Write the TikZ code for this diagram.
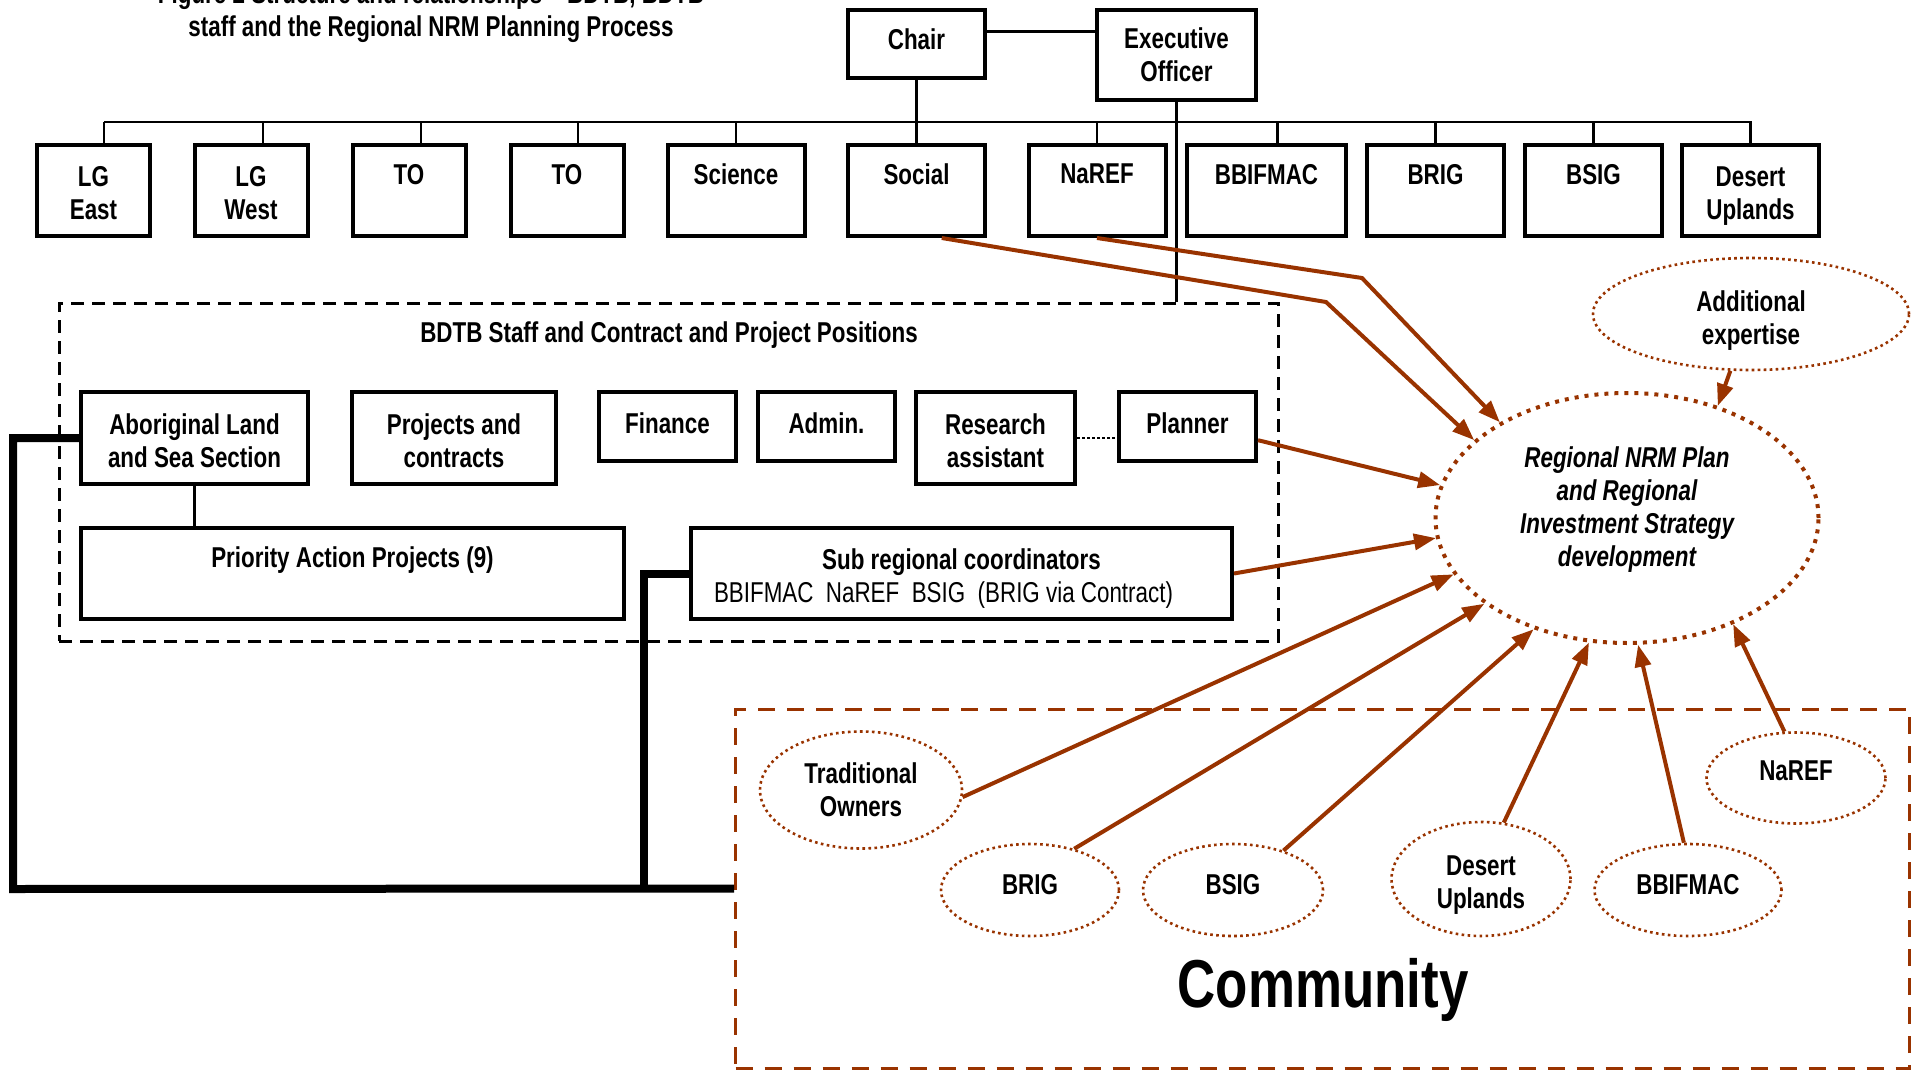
\documentclass[tikz,border=0pt]{standalone}
\usepackage{fontspec}
\setmainfont{Liberation Sans}[FakeStretch=0.78]
\usetikzlibrary{arrows.meta}
\usetikzlibrary{shapes.geometric}
\definecolor{rust}{RGB}{153,51,0}
\newcommand{\boxfont}{\fontsize{28.7}{33}\selectfont\bfseries}
\newcommand{\lift}[1]{\rule{0pt}{#1pt}}

\begin{document}
\begin{tikzpicture}[x=1pt,y=-1pt,
    orgbox/.style={draw,line width=4pt,align=center,inner sep=0pt,font=\boxfont},
    link/.style={line width=2.5pt},
    heavy/.style={line width=8pt},
    feed/.style={draw=rust,line width=4pt,-{Triangle[length=22pt,width=16pt]}},
    group/.style={ellipse,draw=rust,line width=2.6pt,dash pattern=on 2.6pt off 3.4pt,align=center,inner sep=0pt,font=\boxfont}]
    \useasboundingbox (0,0) rectangle (1917,1070);

    \node[align=center,font=\boxfont] (title) at (431,13) {Figure 2 Structure and relationships -- BDTB, BDTB\\staff and the Regional NRM Planning Process};

    % board
    \node[orgbox,minimum width=137pt,minimum height=68pt,text depth=10pt] (chair) at (916.5,44) {Chair};
    \node[orgbox,minimum width=159pt,minimum height=90pt] (eo) at (1176.5,55) {Executive\\Officer};
    \begin{scope}[every node/.append style={minimum height=91pt}]
	\node[orgbox,minimum width=113pt] (lgeast) at (93.5,190.5) {\lift{26}LG\\East};
	\node[orgbox,minimum width=113pt] (lgwest) at (251,190.5) {\lift{26}LG\\West};
	\node[orgbox,minimum width=113pt] (toa) at (409,190.5) {TO\\\mbox{}};
	\node[orgbox,minimum width=113pt] (tob) at (567,190.5) {TO\\\mbox{}};
	\node[orgbox,minimum width=137pt] (science) at (736,190.5) {Science\\\mbox{}};
	\node[orgbox,minimum width=137pt] (social) at (916.5,190.5) {Social\\\mbox{}};
	\node[orgbox,minimum width=137pt] (naref) at (1097,190.5) {NaREF\\\mbox{}};
	\node[orgbox,minimum width=159pt] (bbifmac) at (1266.5,190.5) {BBIFMAC\\\mbox{}};
	\node[orgbox,minimum width=137pt] (brig) at (1435.5,190.5) {BRIG\\\mbox{}};
	\node[orgbox,minimum width=137pt] (bsig) at (1593.5,190.5) {BSIG\\\mbox{}};
	\node[orgbox,minimum width=137pt] (desert) at (1750.5,190.5) {\lift{31}Desert\\Uplands};
    \end{scope}
    \coordinate (busl) at (104,122);
    \coordinate (busr) at (1752,122);
    \draw[link] (busl) -- (busr);
    \foreach \n/\dx in {lgeast/10.5,lgwest/12,toa/12,tob/11,science/0,naref/0,bbifmac/11,brig/0,bsig/0,desert/0}
	\draw[link] ([xshift=\dx pt]\n.north) -- ([xshift=\dx pt]\n.north |- busl);
    \draw[link] (chair.10) -- (eo.west |- chair.10);
    \draw[link] (chair.south) -- (social.north);

    % staff
    \node[draw,line width=3pt,dash pattern=on 13pt off 8pt,minimum width=1219pt,minimum height=338pt] (staffbox) at (668.5,472) {};
    \node[font=\boxfont] (stafftitle) at (669,335.5) {BDTB Staff and Contract and Project Positions};
    \draw[link] (eo.south) -- (eo.south |- staffbox.north);
    \node[orgbox,minimum width=227pt,minimum height=92pt] (aboriginal) at (194.5,438) {\lift{26}Aboriginal Land\\and Sea Section};
    \node[orgbox,minimum width=204pt,minimum height=92pt] (projects) at (454,438) {\lift{26}Projects and\\contracts};
    \node[orgbox,minimum width=137pt,minimum height=69pt,text depth=7.5pt] (finance) at (667.5,426.5) {Finance};
    \node[orgbox,minimum width=137pt,minimum height=69pt,text depth=7.5pt] (admin) at (826.5,426.5) {Admin.};
    \node[orgbox,minimum width=159pt,minimum height=92pt] (research) at (995.5,438) {\lift{26}Research\\assistant};
    \node[orgbox,minimum width=137pt,minimum height=69pt,text depth=7.5pt] (planner) at (1187.5,426.5) {Planner};
    \node[orgbox,minimum width=543pt,minimum height=91pt] (pap) at (352.5,573.5) {Priority Action Projects (9)\\\mbox{}};
    \node[orgbox,minimum width=541pt,minimum height=91pt] (subreg) at (961.5,573.5) {\lift{31}Sub regional coordinators\\\mbox{{\mdseries BBIFMAC\ \ NaREF\ \ BSIG\ \ (BRIG via Contract)}\hspace{36pt}}};
    \draw[link] (aboriginal.south) -- (pap.north -| aboriginal.south);
    \draw[line width=2.5pt,dash pattern=on 2.5pt off 2.5pt] (research.east) -- (planner.west |- research.east);

    % community
    \node[draw=rust,line width=3pt,dash pattern=on 17pt off 12pt,minimum width=1174pt,minimum height=359pt] (commbox) at (1322.5,888.5) {};
    \node[font=\fontsize{67.8}{78}\selectfont\bfseries] (commtitle) at (1323,990) {Community};
    \coordinate (lefttrunk) at (13,889);
    \coordinate (midtrunk) at (644,889);
    \draw[heavy] (aboriginal.west) -| (lefttrunk) -- (commbox.west);
    \draw[heavy] (subreg.west) -| (midtrunk);

    % plan
    \node[ellipse,draw=rust,line width=4pt,dash pattern=on 4pt off 6pt,align=center,inner sep=0pt,font=\boxfont\itshape,minimum width=383pt,minimum height=250pt] (plan) at (1627,518) {Regional NRM Plan\\and Regional\\Investment Strategy\\development\\[-10pt]\mbox{}};
    \node[group,minimum width=316pt,minimum height=112pt] (expertise) at (1751,314) {\lift{33}Additional\\expertise};
    \node[group,minimum width=202pt,minimum height=117pt] (owners) at (861,790) {Traditional\\Owners};
    \node[group,minimum width=178pt,minimum height=92pt,text depth=12pt] (cbrig) at (1030,890) {BRIG};
    \node[group,minimum width=180pt,minimum height=92pt,text depth=12pt] (cbsig) at (1233,890) {BSIG};
    \node[group,minimum width=179pt,minimum height=114pt] (cdesert) at (1481,879) {\lift{31}Desert\\Uplands};
    \node[group,minimum width=187pt,minimum height=92pt,text depth=12pt] (cbbifmac) at (1688,890) {BBIFMAC};
    \node[group,minimum width=179pt,minimum height=91pt,text depth=14pt] (cnaref) at (1796,778) {NaREF};

    \coordinate (bendsocial) at (1326,302);
    \coordinate (bendnaref) at (1362,278);
    \draw[feed] (social.-62) -- (bendsocial) -- (plan.153.6);
    \draw[feed] (naref.south) -- (bendnaref) -- (plan.143.2);
    \draw[feed] (planner.-11) -- (plan.170.2);
    \draw[feed] (subreg.east) -- (plan.186.6);
    \draw[feed] (expertise.-110) -- (plan.51.5);
    \draw[feed] (owners.-4) -- (plan.198.3);
    \draw[feed] (cbrig.43) -- (plan.211.5);
    \draw[feed] (cbsig.38) -- (plan.230.6);
    \draw[feed] (cdesert.68) -- (plan.253.9);
    \draw[feed] (cbbifmac.95) -- (plan.275.9);
    \draw[feed] (cnaref.104) -- (plan.315);
\end{tikzpicture}
\end{document}
